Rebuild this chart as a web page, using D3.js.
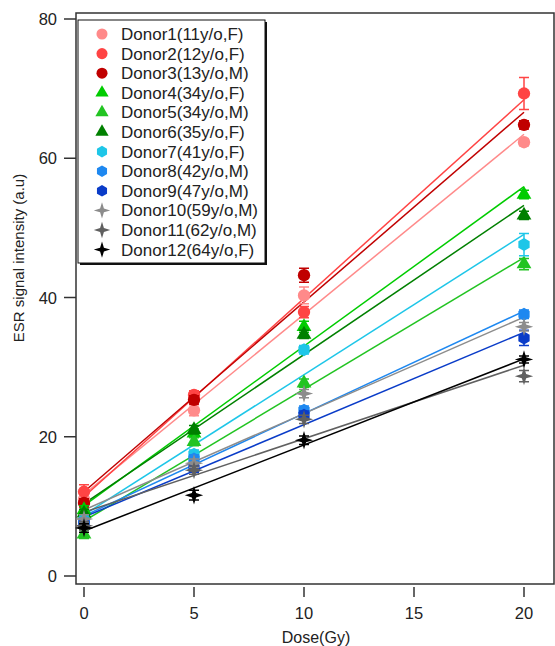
<!DOCTYPE html>
<html>
<head>
<meta charset="utf-8">
<script src="https://cdn.jsdelivr.net/npm/d3@7"></script>
<style>
  body { margin: 0; background: #fff; }
  svg { font-family: "Liberation Sans", Arial, sans-serif; }
</style>
</head>
<body>
<div id="chart"></div>
<script>
// Data
const doses = [0, 5, 10, 20];
const donors = [
  "Donor1(11y/o,F)", "Donor2(12y/o,F)", "Donor3(13y/o,M)",
  "Donor4(34y/o,F)", "Donor5(34y/o,M)", "Donor6(35y/o,F)",
  "Donor7(41y/o,F)", "Donor8(42y/o,M)", "Donor9(47y/o,M)",
  "Donor10(59y/o,M)", "Donor11(62y/o,M)", "Donor12(64y/o,F)"
];
const values = [
  [11.0, 23.8, 40.3, 62.3],
  [12.1, 26.0, 37.9, 69.3],
  [10.5, 25.3, 43.2, 64.8],
  [9.5, 20.5, 35.8, 54.8],
  [6.0, 19.3, 27.7, 44.8],
  [9.0, 21.0, 34.7, 51.8],
  [8.0, 17.5, 32.5, 47.6],
  [7.8, 16.8, 23.8, 37.6],
  [7.5, 15.5, 23.1, 34.2],
  [8.2, 16.2, 26.2, 35.8],
  [7.2, 15.2, 22.5, 28.7],
  [6.9, 11.6, 19.5, 31.1]
];
const errors = [
  [0.8, 0.8, 1.2, 0.5],
  [1.0, 0.6, 0.8, 2.3],
  [0.6, 0.6, 1.0, 0.6],
  [0.6, 0.6, 0.8, 0.6],
  [0.6, 0.6, 0.6, 0.8],
  [0.6, 0.6, 0.6, 0.6],
  [0.6, 0.6, 0.6, 1.6],
  [0.6, 0.6, 0.6, 0.6],
  [0.6, 0.6, 0.6, 1.1],
  [0.6, 0.6, 0.6, 0.6],
  [0.6, 0.6, 0.6, 0.8],
  [0.6, 0.7, 0.6, 0.5]
];
const colors = [
  "#ff8a8a", "#ff4444", "#c00000",
  "#00cc00", "#22c422", "#008000",
  "#1ec6e8", "#1e88f0", "#0a3cc8",
  "#8c8c8c", "#606060", "#000000"
];
const shapes = ["circle", "circle", "circle", "triangle", "triangle", "triangle",
  "hexagon", "hexagon", "hexagon", "star", "star", "star"];
const xTicks = [0, 5, 10, 15, 20];
const yTicks = [0, 20, 40, 60, 80];

const W = 555, H = 646;
const frame = {left: 76, top: 13, right: 554, bottom: 584};

const svg = d3.select("#chart").append("svg")
  .attr("width", W).attr("height", H);

const x = d3.scaleLinear().domain([0, 20]).range([84, 524]);
const y = d3.scaleLinear().domain([0, 80]).range([576, 19]);

// custom marker shapes
const hexagon = {
  draw(ctx, size) {
    const r = Math.sqrt(size / 2.598);
    for (let i = 0; i < 6; i++) {
      const a = Math.PI / 3 * i - Math.PI / 2;
      i ? ctx.lineTo(r * Math.cos(a), r * Math.sin(a)) : ctx.moveTo(r * Math.cos(a), r * Math.sin(a));
    }
    ctx.closePath();
  }
};
const star4 = {
  draw(ctx, size) {
    const r = Math.sqrt(size) * 0.75, ri = r * 0.33;
    for (let i = 0; i < 8; i++) {
      const a = Math.PI / 4 * i - Math.PI / 2;
      const rr = i % 2 ? ri : r;
      i ? ctx.lineTo(rr * Math.cos(a), rr * Math.sin(a)) : ctx.moveTo(rr * Math.cos(a), rr * Math.sin(a));
    }
    ctx.closePath();
  }
};
const symbolFor = {
  circle: d3.symbolCircle,
  triangle: d3.symbolTriangle,
  hexagon: hexagon,
  star: star4
};
const sizeFor = {circle: 120, triangle: 95, hexagon: 110, star: 150};

// frame
svg.append("rect")
  .attr("x", frame.left).attr("y", frame.top)
  .attr("width", frame.right - frame.left).attr("height", frame.bottom - frame.top)
  .attr("fill", "none").attr("stroke", "#333").attr("stroke-width", 1.5);

// y axis ticks + labels
svg.selectAll(".ytick").data(yTicks).join("line")
  .attr("x1", 64).attr("x2", frame.left)
  .attr("y1", d => y(d)).attr("y2", d => y(d))
  .attr("stroke", "#333").attr("stroke-width", 1.5);
svg.selectAll(".ylab").data(yTicks).join("text")
  .attr("x", 57).attr("y", d => y(d) + 6)
  .attr("text-anchor", "end").attr("font-size", 16.5).attr("fill", "#222")
  .text(d => d);

// x axis ticks + labels
svg.selectAll(".xtick").data(xTicks).join("line")
  .attr("x1", d => x(d)).attr("x2", d => x(d))
  .attr("y1", 587).attr("y2", 597)
  .attr("stroke", "#333").attr("stroke-width", 1.5);
svg.selectAll(".xlab").data(xTicks).join("text")
  .attr("x", d => x(d)).attr("y", 619)
  .attr("text-anchor", "middle").attr("font-size", 16.5).attr("fill", "#222")
  .text(d => d);

svg.append("text")
  .attr("x", x(10) + 12).attr("y", 643)
  .attr("text-anchor", "middle").attr("font-size", 16).attr("fill", "#222")
  .text("Dose(Gy)");
svg.append("text")
  .attr("transform", `translate(24,258) rotate(-90)`)
  .attr("text-anchor", "middle").attr("font-size", 15).attr("fill", "#222")
  .text("ESR signal intensity (a.u)");

// least-squares fit for each donor
const fits = values.map(v => {
  const mx = d3.mean(doses), my = d3.mean(v);
  const sxy = d3.sum(doses, (d, i) => (d - mx) * (v[i] - my));
  const sxx = d3.sum(doses, d => (d - mx) ** 2);
  const b = sxy / sxx;
  return {a: my - b * mx, b};
});

const plot = svg.append("g");
plot.selectAll(".fit").data(fits).join("line")
  .attr("x1", x(0)).attr("x2", x(20))
  .attr("y1", d => y(d.a)).attr("y2", d => y(d.a + d.b * 20))
  .attr("stroke", (d, i) => colors[i]).attr("stroke-width", 1.5);

donors.forEach((name, i) => {
  const g = plot.append("g");
  const pts = doses.map((d, j) => ({d, v: values[i][j], e: errors[i][j]}));
  g.selectAll(".err").data(pts).join("path")
    .attr("d", p => {
      const cx = x(p.d), t = y(p.v + p.e), b = y(p.v - p.e);
      return `M${cx - 5},${t}H${cx + 5}M${cx},${t}V${b}M${cx - 5},${b}H${cx + 5}`;
    })
    .attr("stroke", colors[i]).attr("stroke-width", 1.5).attr("fill", "none");
  g.selectAll(".pt").data(pts).join("path")
    .attr("transform", p => `translate(${x(p.d)},${y(p.v)})`)
    .attr("d", d3.symbol(symbolFor[shapes[i]], sizeFor[shapes[i]]))
    .attr("fill", colors[i]);
});

// legend
const leg = svg.append("g");
leg.append("rect").attr("x", 80).attr("y", 22).attr("width", 187).attr("height", 243).attr("fill", "#111");
leg.append("rect").attr("x", 78).attr("y", 20).attr("width", 187).attr("height", 243)
  .attr("fill", "#fff").attr("stroke", "#111").attr("stroke-width", 1);
donors.forEach((name, i) => {
  const cy = 34 + i * 19.6;
  leg.append("path")
    .attr("transform", `translate(102,${cy})`)
    .attr("d", d3.symbol(symbolFor[shapes[i]], sizeFor[shapes[i]] * 0.8))
    .attr("fill", colors[i]);
  leg.append("text")
    .attr("x", 121).attr("y", cy + 6)
    .attr("font-size", 17).attr("fill", "#222")
    .text(name);
});
</script>
</body>
</html>
